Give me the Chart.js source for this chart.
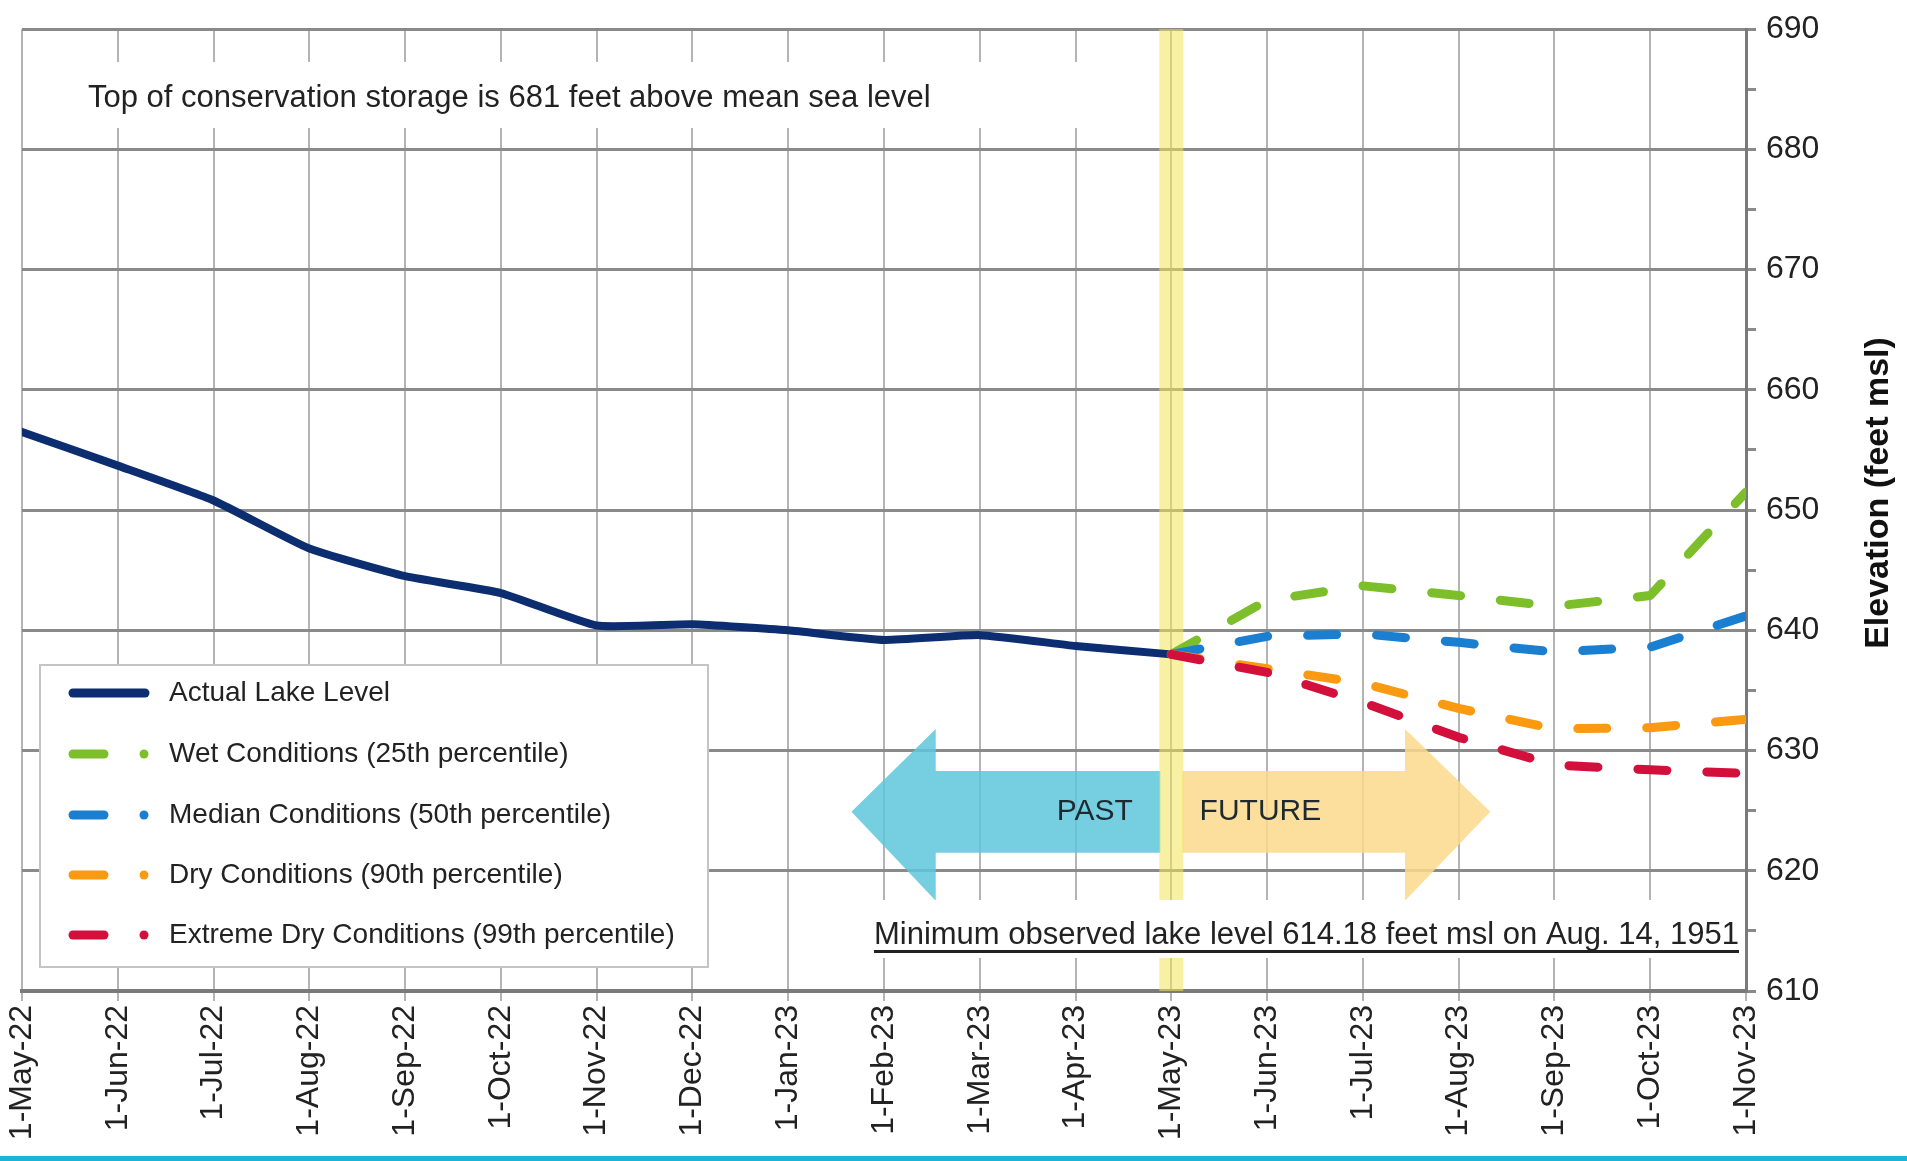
<!DOCTYPE html>
<html><head><meta charset="utf-8">
<script src="https://cdn.jsdelivr.net/npm/chart.js@4/dist/chart.umd.min.js"></script>
<style>html,body{margin:0;padding:0;background:#fff;overflow:hidden}canvas{display:block}</style>
</head><body>
<canvas id="c" width="1907" height="1161" style="width:1907px;height:1161px"></canvas>
<script>
// ---- data ----
const tickLabels = ['1-May-22','1-Jun-22','1-Jul-22','1-Aug-22','1-Sep-22','1-Oct-22','1-Nov-22','1-Dec-22','1-Jan-23','1-Feb-23','1-Mar-23','1-Apr-23','1-May-23','1-Jun-23','1-Jul-23','1-Aug-23','1-Sep-23','1-Oct-23','1-Nov-23'];
const actualLevel = [656.5, 653.7, 650.8, 646.8, 644.5, 643.1, 640.4, 640.5, 640.0, 639.2, 639.6, 638.7, 638.0];
const forecastStartIndex = 12;
const wetLevel = [638.0, 642.5, 643.7, 642.9, 642.0, 642.9, 651.5];
const medianLevel = [638.0, 639.5, 639.7, 639.0, 638.2, 638.6, 641.2];
const dryLevel = [638.0, 636.8, 635.6, 633.5, 631.8, 631.9, 632.6];
const extremeDryLevel = [638.0, 636.5, 634.0, 631.1, 628.8, 628.4, 628.1];
const seriesNames = ['Actual Lake Level','Wet Conditions (25th percentile)','Median Conditions (50th percentile)','Dry Conditions (90th percentile)','Extreme Dry Conditions (99th percentile)'];
const seriesColors = ['#0c2d6f','#7cbf2a','#1a7fd0','#f99a10','#d3103c'];
const yTicks = [610, 620, 630, 640, 650, 660, 670, 680, 690];
const topNote = 'Top of conservation storage is 681 feet above mean sea level';
const minNote = 'Minimum observed lake level 614.18 feet msl on Aug. 14, 1951';
const yTitle = 'Elevation (feet msl)';

const FONT = '"Liberation Sans", Arial, sans-serif';
Chart.defaults.font.family = FONT;

function toPts(arr, start) { return arr.map((v, i) => ({x: start + i, y: v})); }

const dashStyle = (color) => ({
  borderColor: color, backgroundColor: color, borderWidth: 9,
  borderDash: [29, 40], borderCapStyle: 'round', borderJoinStyle: 'round',
  pointRadius: 0, tension: 0, fill: false
});

const datasets = [
  {label: seriesNames[0], data: toPts(actualLevel, 0), borderColor: seriesColors[0], backgroundColor: seriesColors[0],
   borderWidth: 8, borderCapStyle: 'round', borderJoinStyle: 'round', pointRadius: 0, tension: 0.15, fill: false, order: 5},
  Object.assign({label: seriesNames[1], data: toPts(wetLevel, forecastStartIndex), order: 4}, dashStyle(seriesColors[1])),
  Object.assign({label: seriesNames[2], data: toPts(medianLevel, forecastStartIndex), order: 3}, dashStyle(seriesColors[2])),
  Object.assign({label: seriesNames[3], data: toPts(dryLevel, forecastStartIndex), order: 2}, dashStyle(seriesColors[3])),
  Object.assign({label: seriesNames[4], data: toPts(extremeDryLevel, forecastStartIndex), order: 1}, dashStyle(seriesColors[4]))
];

const decor = {
  id: 'decor',
  beforeDatasetsDraw(chart) {
    const ctx = chart.ctx, xs = chart.scales.x, ys = chart.scales.y, ca = chart.chartArea;
    const X = v => xs.getPixelForValue(v), Y = v => ys.getPixelForValue(v);
    ctx.save();
    // arrows
    const bodyTop = Y(628.3), bodyBot = Y(621.5), headTop = Y(631.8), headBot = Y(617.5), mid = Y(624.9);
    const band = X(forecastStartIndex);
    ctx.globalAlpha = 0.85;
    ctx.fillStyle = '#5ec5dc';
    ctx.beginPath();
    ctx.moveTo(band - 11, bodyTop); ctx.lineTo(X(9.54), bodyTop); ctx.lineTo(X(9.54), headTop);
    ctx.lineTo(X(8.66), mid); ctx.lineTo(X(9.54), headBot); ctx.lineTo(X(9.54), bodyBot); ctx.lineTo(band - 11, bodyBot);
    ctx.closePath(); ctx.fill();
    ctx.fillStyle = '#fcd98c';
    ctx.beginPath();
    ctx.moveTo(band + 11, bodyTop); ctx.lineTo(X(14.44), bodyTop); ctx.lineTo(X(14.44), headTop);
    ctx.lineTo(X(15.33), mid); ctx.lineTo(X(14.44), headBot); ctx.lineTo(X(14.44), bodyBot); ctx.lineTo(band + 11, bodyBot);
    ctx.closePath(); ctx.fill();
    ctx.globalAlpha = 1;
    ctx.fillStyle = '#1e2a30';
    ctx.font = '30px ' + FONT;
    ctx.textAlign = 'center'; ctx.textBaseline = 'middle';
    ctx.fillText('PAST', X(11.2), mid);
    ctx.fillText('FUTURE', X(12.93), mid);
    // top note box
    ctx.fillStyle = '#fff';
    ctx.fillRect(ca.left + 2, 62, 1080, 66);
    ctx.fillStyle = '#222';
    ctx.textAlign = 'left';
    ctx.font = '31px ' + FONT;
    ctx.fillText(topNote, 88, 98);
    // yellow band
    ctx.fillStyle = 'rgba(242, 230, 90, 0.55)';
    ctx.fillRect(band - 12, ca.top, 24, ca.bottom - ca.top);
    // min note box
    ctx.fillStyle = '#fff';
    ctx.fillRect(865, 900, ca.right - 866, 58);
    ctx.fillStyle = '#222';
    ctx.textAlign = 'right';
    ctx.font = '31px ' + FONT;
    const tx = ca.right - 7;
    ctx.fillText(minNote, tx, 935);
    const w = ctx.measureText(minNote).width;
    ctx.fillRect(tx - w, 950, w, 3);
    ctx.restore();
  },
  afterDatasetsDraw(chart) {
    const ctx = chart.ctx;
    ctx.save();
    // legend
    ctx.fillStyle = '#fff';
    ctx.fillRect(40, 665, 668, 302);
    ctx.strokeStyle = '#c4c4c4'; ctx.lineWidth = 2;
    ctx.strokeRect(40, 665, 668, 302);
    const rows = [693, 754, 815, 875, 935];
    ctx.font = '28px ' + FONT; ctx.textBaseline = 'middle'; ctx.textAlign = 'left';
    chart.data.datasets.forEach((ds, i) => {
      const y = rows[i];
      ctx.strokeStyle = ds.borderColor; ctx.fillStyle = ds.borderColor;
      ctx.lineCap = 'round'; ctx.lineWidth = 9;
      ctx.beginPath();
      if (i === 0) { ctx.moveTo(73, y); ctx.lineTo(145, y); ctx.stroke(); }
      else {
        ctx.moveTo(73, y); ctx.lineTo(104, y); ctx.stroke();
        ctx.beginPath(); ctx.arc(144, y, 4.5, 0, Math.PI * 2); ctx.fill();
      }
      ctx.fillStyle = '#222';
      ctx.fillText(ds.label, 169, y);
    });
    // y title
    ctx.translate(1879, 493);
    ctx.rotate(-Math.PI / 2);
    ctx.font = 'bold 34px ' + FONT; ctx.fillStyle = '#111'; ctx.textAlign = 'center';
    ctx.fillText(yTitle, 0, 0);
    ctx.restore();
  },
  afterDraw(chart) {
    const ctx = chart.ctx;
    ctx.save();
    ctx.fillStyle = '#19b4d8';
    ctx.fillRect(0, 1156, 1907, 5);
    ctx.restore();
  }
};

new Chart(document.getElementById('c'), {
  type: 'line',
  data: {datasets},
  options: {
    responsive: false, animation: false, devicePixelRatio: 1,
    layout: {padding: {left: 22, top: 22, right: 0, bottom: 0}},
    plugins: {legend: {display: false}, tooltip: {enabled: false}},
    scales: {
      x: {
        type: 'linear', position: 'bottom', min: 0, max: tickLabels.length - 1,
        ticks: {stepSize: 1, autoSkip: false, minRotation: 90, maxRotation: 90, padding: 4,
                color: '#222', font: {size: 32}, callback: v => tickLabels[v] ?? ''},
        grid: {color: '#b4b4b4', lineWidth: 2, tickLength: 10, tickColor: '#b4b4b4'},
        border: {display: true, color: '#7a7a7a', width: 4},
        afterFit(s) { s.height = 170; }
      },
      y: {
        position: 'right', min: yTicks[0], max: yTicks[yTicks.length - 1],
        ticks: {stepSize: 5, padding: 10, color: '#222', font: {size: 32},
                callback: v => (yTicks.includes(v) ? String(v) : '')},
        grid: {color: c => (yTicks.includes(c.tick.value) ? '#8a8a8a' : 'rgba(0,0,0,0)'),
               lineWidth: 3, tickLength: 10, tickColor: '#8a8a8a'},
        border: {display: true, color: '#7a7a7a', width: 3},
        afterFit(s) { s.width = 161; }
      }
    }
  },
  plugins: [decor]
});
</script>
</body></html>
